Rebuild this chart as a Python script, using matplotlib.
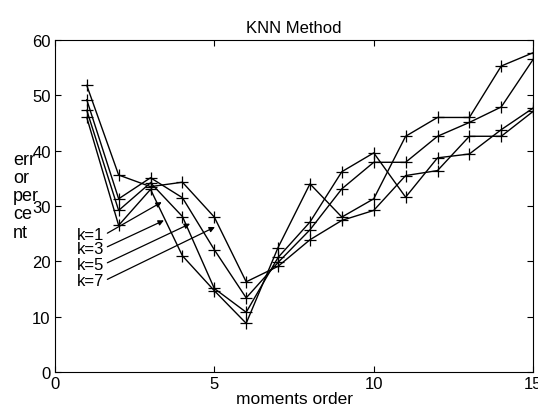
import matplotlib
matplotlib.use("Agg")
from matplotlib import pyplot as plt

plt.rcParams['font.family'] = ['Liberation Sans', 'DejaVu Sans']

order = list(range(1, 16))
err_a = [51.8, 35.6, 33.5, 34.3, 28.0, 16.3, 19.1, 23.9, 27.4, 29.2, 35.5, 36.4, 42.6, 42.6, 47.1]
err_b = [49.2, 31.3, 35.1, 31.5, 22.1, 13.4, 19.8, 25.7, 33.1, 37.9, 37.9, 42.6, 45.1, 47.9, 56.5]
err_c = [47.3, 29.2, 34.2, 28.1, 15.1, 10.8, 20.7, 27.1, 36.2, 39.6, 31.6, 38.7, 39.4, 43.8, 47.7]
err_d = [46.0, 26.5, 33.0, 21.0, 14.7, 8.8, 22.5, 34.0, 28.0, 31.3, 42.6, 46.0, 46.0, 55.3, 57.7]
k_labels = ['k=1', 'k=3', 'k=5', 'k=7']

f = plt.figure(figsize=(5.38, 4.14), dpi=100)
ax = f.add_axes([0.102, 0.099, 0.889, 0.802])

for err in (err_a, err_b, err_c, err_d):
    ax.plot(order, err, '-+', color='black', lw=1.0, ms=8, mew=0.9)

# labels with arrows (k=1 .. k=7)
text_y = [24.8, 22.4, 19.5, 16.5]
tips = [(3.35, 30.7), (3.42, 27.4), (4.24, 26.8), (5.02, 26.2)]
for lab, ty, tip in zip(k_labels, text_y, tips):
    ax.annotate(lab, xy=tip, xytext=(0.70, ty), ha='left', va='center',
                fontsize=12,
                arrowprops=dict(arrowstyle='-|>', color='black', lw=0.9,
                                mutation_scale=8, shrinkA=0, shrinkB=0,
                                relpos=(1.0, 0.5)))

ax.set_xlim(0, 15)
ax.set_ylim(0, 60)
ax.set_xticks([0, 5, 10, 15])
ax.set_yticks([0, 10, 20, 30, 40, 50, 60])
ax.tick_params(direction='in', top=True, right=True, labelsize=12, length=4,
               pad=3)
ax.set_title('KNN Method', fontsize=12, pad=6)
ax.set_xlabel('moments order', fontsize=12.5, labelpad=0)
f.text(0.024, 0.525, 'err\nor\nper\nce\nnt', ha='left', va='center',
       fontsize=13, linespacing=1.1)

plt.savefig('out.png', dpi=100)
plt.close()
